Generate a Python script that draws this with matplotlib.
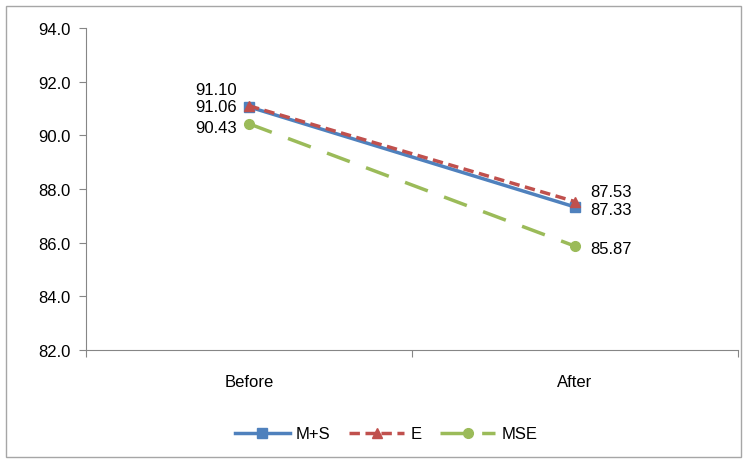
import matplotlib
matplotlib.use("Agg")
import matplotlib.pyplot as plt
from matplotlib.patches import Rectangle

categories = ["Before", "After"]
ms_vals = [91.06, 87.33]
e_vals = [91.10, 87.53]
mse_vals = [90.43, 85.87]
yticks = [82.0, 84.0, 86.0, 88.0, 90.0, 92.0, 94.0]

plt.rcParams['font.family'] = ['Liberation Sans', 'DejaVu Sans']
fig = plt.figure(figsize=(7.49, 4.64), dpi=100)
fig.patches.append(Rectangle((6/749, 1-458/464), 735/749, 451/464, transform=fig.transFigure,
                             fill=False, edgecolor='#A6A6A6', linewidth=1.0))
ax = fig.add_axes([86/749, 1-351/464, 652/749, 322/464])

x = [0.5, 1.5]
blue, red, green = '#4F81BD', '#C0504D', '#9BBB59'
ax.plot(x, ms_vals, color=blue, lw=2.5, marker='s', ms=7, label='M+S', zorder=3)
ax.plot(x, e_vals, color=red, lw=2.5, ls=(0, (3, 1.6)), marker='^', ms=7, label='E', zorder=4)
ax.plot(x, mse_vals, color=green, lw=2.5, ls=(0, (7, 5)), marker='o', ms=7, label='MSE', zorder=2)

fs = 12
ax.set_xlim(0, 2)
ax.set_ylim(82, 94)
ax.set_yticks(yticks)
ax.set_yticklabels([f"{v:.1f}" for v in yticks], fontsize=fs)
ax.set_xticks([0, 1, 2])
ax.set_xticklabels([])
ax.set_xticks(x, minor=True)
ax.set_xticklabels(categories, minor=True, fontsize=fs)
ax.tick_params(axis='x', which='minor', length=0, pad=17)
ax.tick_params(axis='x', which='major', length=5, color='#868686', direction='out')
ax.tick_params(axis='y', length=5, color='#868686', direction='out', pad=6)
for s in ['top', 'right']:
    ax.spines[s].set_visible(False)
for s in ['left', 'bottom']:
    ax.spines[s].set_color('#868686')

# Before labels (left)
ax.annotate(f"{e_vals[0]:.2f}", (x[0], e_vals[0]), xytext=(-9, 11.5), textcoords='offset points',
            ha='right', va='center', fontsize=fs)
ax.annotate(f"{ms_vals[0]:.2f}", (x[0], ms_vals[0]), xytext=(-9, 0), textcoords='offset points',
            ha='right', va='center', fontsize=fs)
ax.annotate(f"{mse_vals[0]:.2f}", (x[0], mse_vals[0]), xytext=(-9, -3), textcoords='offset points',
            ha='right', va='center', fontsize=fs)
# After labels (right)
ax.annotate(f"{e_vals[1]:.2f}", (x[1], e_vals[1]), xytext=(11, 7.6), textcoords='offset points',
            ha='left', va='center', fontsize=fs)
ax.annotate(f"{ms_vals[1]:.2f}", (x[1], ms_vals[1]), xytext=(11, -1.5), textcoords='offset points',
            ha='left', va='center', fontsize=fs)
ax.annotate(f"{mse_vals[1]:.2f}", (x[1], mse_vals[1]), xytext=(11, -1.5), textcoords='offset points',
            ha='left', va='center', fontsize=fs)

fig.legend(loc='center', bbox_to_anchor=(386/749, 1-435/464), ncol=3, frameon=False,
           fontsize=fs, handlelength=3.3, columnspacing=1.15, handletextpad=0.35, borderpad=0)

fig.savefig("out.png", dpi=100)
